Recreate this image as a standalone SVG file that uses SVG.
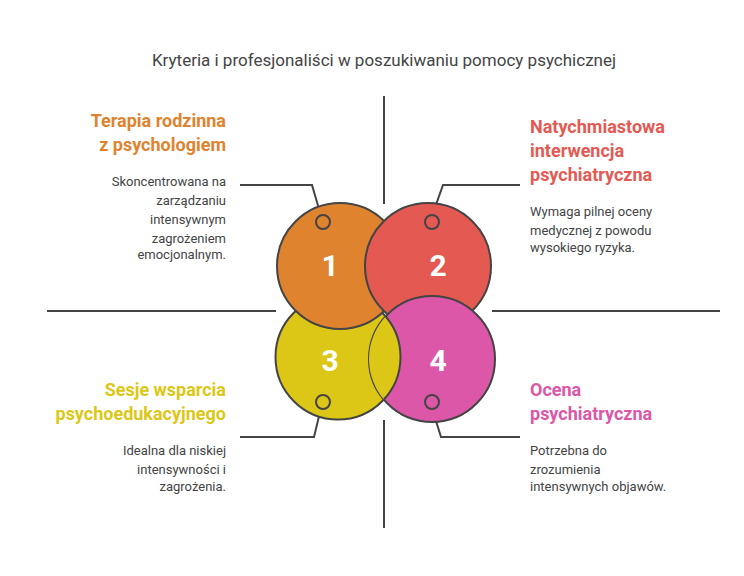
<svg xmlns="http://www.w3.org/2000/svg" width="744" height="576" viewBox="0 0 744 576">
<style>
.t{font-family:Roboto,"Liberation Sans",sans-serif;fill:#444}
.h{font-family:Roboto,"Liberation Sans",sans-serif;font-weight:bold;font-size:18px}
.b{font-family:Roboto,"Liberation Sans",sans-serif;font-size:13px;fill:#444}
.n{font-family:Roboto,"Liberation Sans",sans-serif;font-weight:bold;font-size:30px;fill:#fff;text-anchor:middle}
.c{stroke:#444;stroke-width:2}
.l{stroke:#444;stroke-width:2;fill:none}
</style>
<defs><clipPath id="cp"><circle cx="432" cy="359" r="63"/></clipPath></defs>
<rect width="744" height="576" fill="#fff"/>
<text class="t" x="384" y="66" font-size="17" text-anchor="middle">Kryteria i profesjonaliści w poszukiwaniu pomocy psychicznej</text>
<g id="connectors" class="l">
<path d="M384 96V204M384 420V528M47 311H276M492 311H720"/>
<path d="M321 216L312 185H240M432 216L443 185H520M321 408L314 437H240M432 408L441 437H520"/>
</g>
<g id="node3"><circle class="c" cx="338" cy="357" r="62.5" fill="#DDC716"/></g>
<g id="node1"><circle class="c" cx="340" cy="266" r="63" fill="#E0832F"/></g>
<g id="node2"><circle class="c" cx="428" cy="266" r="63" fill="#E45A53"/></g>
<g id="node4"><circle class="c" cx="432" cy="359" r="63" fill="#DC57A8"/>
<circle class="c" cx="338" cy="357" r="62.5" fill="#DDC716" clip-path="url(#cp)"/></g>
<g class="l" fill="none">
<circle cx="323" cy="222" r="7"/><circle cx="432" cy="222" r="7"/><circle cx="323" cy="402" r="7"/><circle cx="432" cy="402" r="7"/>
</g>
<text class="n" x="330" y="276">1</text>
<text class="n" x="438" y="276">2</text>
<text class="n" x="330" y="371">3</text>
<text class="n" x="438" y="371">4</text>
<g id="t1" text-anchor="end">
<text class="h" x="226" y="127" fill="#E0832F">Terapia rodzinna</text>
<text class="h" x="226" y="151" fill="#E0832F">z psychologiem</text>
<text class="b" x="226" y="186">Skoncentrowana na</text>
<text class="b" x="226" y="205">zarządzaniu</text>
<text class="b" x="226" y="224">intensywnym</text>
<text class="b" x="226" y="243">zagrożeniem</text>
<text class="b" x="226" y="259">emocjonalnym.</text>
</g>
<g id="t2">
<text class="h" x="530" y="133" fill="#E45A53">Natychmiastowa</text>
<text class="h" x="530" y="157" fill="#E45A53">interwencja</text>
<text class="h" x="530" y="181" fill="#E45A53">psychiatryczna</text>
<text class="b" x="530" y="216">Wymaga pilnej oceny</text>
<text class="b" x="530" y="235">medycznej z powodu</text>
<text class="b" x="530" y="252">wysokiego ryzyka.</text>
</g>
<g id="t3" text-anchor="end">
<text class="h" x="226" y="396" fill="#DDC716">Sesje wsparcia</text>
<text class="h" x="226" y="420" fill="#DDC716">psychoedukacyjnego</text>
<text class="b" x="226" y="455">Idealna dla niskiej</text>
<text class="b" x="226" y="474">intensywności i</text>
<text class="b" x="226" y="491">zagrożenia.</text>
</g>
<g id="t4">
<text class="h" x="530" y="396" fill="#DC57A8">Ocena</text>
<text class="h" x="530" y="420" fill="#DC57A8">psychiatryczna</text>
<text class="b" x="530" y="455">Potrzebna do</text>
<text class="b" x="530" y="474">zrozumienia</text>
<text class="b" x="530" y="491">intensywnych objawów.</text>
</g>
</svg>
